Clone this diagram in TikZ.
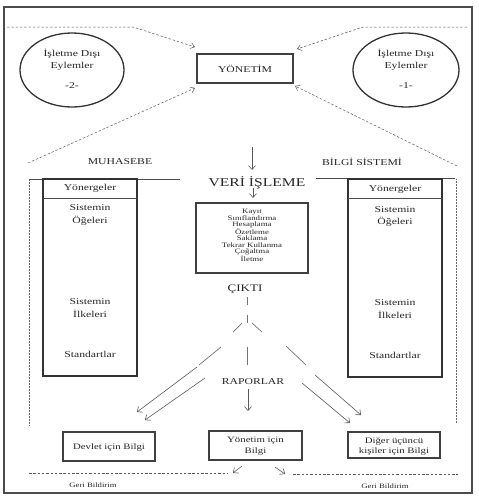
\documentclass[tikz,border=0pt]{standalone}
\usepackage{fontspec}
\setmainfont{Liberation Serif}[FakeStretch=1.3]
\usetikzlibrary{arrows.meta}
\begin{document}
\begin{tikzpicture}[x=1pt,y=-1pt,
  lbl/.style={inner sep=0pt, text=black!85, align=center, font=\fontsize{9}{12}\selectfont},
  big/.style={lbl, font=\fontsize{12}{14}\selectfont},
  mid/.style={lbl, font=\fontsize{10}{12}\selectfont},
  bx/.style={lbl, font=\fontsize{8.3}{10.5}\selectfont},
  tiny/.style={lbl, font=\fontsize{6.8}{6.4}\selectfont},
  geri/.style={lbl, font=\fontsize{6.7}{8}\selectfont},
  boxd/.style={draw=black!75, line width=1.5pt, inner sep=0pt},
  circ/.style={draw=black!80, line width=1.3pt},
  dasharr/.style={draw=black!65, line width=0.5pt, dash pattern=on 2.5pt off 1.8pt, -{Straight Barb[length=4pt,width=6pt]}},
  dashln/.style={draw=black!65, line width=0.5pt, dash pattern=on 2.5pt off 1.8pt},
  arr/.style={draw=black!65, line width=0.6pt, -{Straight Barb[length=4pt,width=7pt]}},
  seg/.style={draw=black!55, line width=0.7pt},
  dotln/.style={draw=black!60, line width=0.9pt, dash pattern=on 0.6pt off 0.9pt},
  thin/.style={draw=black!70, line width=0.6pt},
  colbox/.style={draw=black!80, line width=1.6pt}
]
\useasboundingbox (0,0) rectangle (479,498);
% outer frame
\draw[draw=black!70, line width=1.6pt] (4,7) rectangle (472,493);

% circles
\draw[circ] (72,70) ellipse [x radius=52, y radius=37];
\node[lbl] (c2a) at (72,54) {İşletme Dışı};
\node[lbl] (c2b) at (72,66) {Eylemler};
\node[lbl] (c2c) at (72,86) {-2-};
\draw[circ] (406,70) ellipse [x radius=53, y radius=37];
\node[lbl] (c1a) at (406,54) {İşletme Dışı};
\node[lbl] (c1b) at (406,66) {Eylemler};
\node[lbl] (c1c) at (406,86) {-1-};

% YONETIM
\node[boxd, lbl, minimum width=96pt, minimum height=29pt, draw=black!75, line width=1.5pt] (yon) at (245,68.5) {YÖNETİM};

% dashed arrows into YONETIM
\coordinate (tl1) at (7,27); \coordinate (tl2) at (133,27); \coordinate (tl3) at (195,47);
\draw[dasharr] (tl1) -- (tl2) -- (tl3);
\coordinate (tr1) at (467,27); \coordinate (tr2) at (363,27); \coordinate (tr3) at (297,49);
\draw[dasharr] (tr1) -- (tr2) -- (tr3);
\coordinate (bl1) at (28,163); \coordinate (bl2) at (195,88);
\draw[dasharr] (bl1) -- (bl2);
\coordinate (br1) at (457,166); \coordinate (br2) at (295,86);
\draw[dasharr] (br1) -- (br2);

% headings
\node[lbl] (muh) at (120,162) {MUHASEBE};
\node[lbl] (bilgi) at (362,162) {BİLGİ SİSTEMİ};

% VERI ISLEME
\coordinate (a1) at (252,147); \coordinate (a2) at (252,170);
\draw[arr] (a1) -- (a2);
\node[big] (veri) at (257,183) {VERİ İŞLEME};
\coordinate (a3) at (253,188); \coordinate (a4) at (253,198);
\draw[arr] (a3) -- (a4);

% processing box
\node[boxd, minimum width=112pt, minimum height=70pt] (proc) at (252,238) {};
\node[tiny] (proct) at (252,235.5) {Kayıt\\Sınıflandırma\\Hesaplama\\Özetleme\\Saklama\\Tekrar Kullanma\\Çoğaltma\\İletme};

% CIKTI
\node[mid] (cikti) at (245,289) {ÇIKTI};
\coordinate (v1) at (247,297); \coordinate (v2) at (247,305);
\coordinate (v3) at (247,315); \coordinate (v4) at (247,323);
\coordinate (v5) at (247,347); \coordinate (v6) at (247,365);
\draw[seg] (v1) -- (v2);
\draw[seg] (v3) -- (v4);
\draw[seg] (v5) -- (v6);
\coordinate (l1) at (242,323); \coordinate (l2) at (233,332);
\coordinate (l3) at (221,347); \coordinate (l4) at (199,365);
\draw[seg] (l1) -- (l2);
\draw[seg] (l3) -- (l4);
\coordinate (r1) at (252,323); \coordinate (r2) at (262,332);
\coordinate (r3) at (286,346); \coordinate (r4) at (306,365);
\draw[seg] (r1) -- (r2);
\draw[seg] (r3) -- (r4);
% double arrows
\coordinate (la1) at (197,367); \coordinate (la2) at (137,412);
\coordinate (lb1) at (205,378); \coordinate (lb2) at (145,420);
\draw[arr] (la1) -- (la2);
\draw[arr] (lb1) -- (lb2);
\coordinate (ra1) at (315,375); \coordinate (ra2) at (361,415);
\coordinate (rb1) at (302,383); \coordinate (rb2) at (350,423);
\draw[arr] (ra1) -- (ra2);
\draw[arr] (rb1) -- (rb2);

% RAPORLAR
\node[lbl] (rap) at (253,382) {RAPORLAR};
\coordinate (rp1) at (248,389); \coordinate (rp2) at (248,411);
\draw[arr] (rp1) -- (rp2);

% bottom boxes
\node[boxd, bx, minimum width=92pt, minimum height=29pt] (devlet) at (109,446.5) {};
\node[bx] (devlett) at (109,447.5) {Devlet için Bilgi};
\node[boxd, bx, minimum width=93pt, minimum height=29pt] (yonb) at (255.5,445.5) {};
\node[bx] (yonbt) at (255.5,446) {Yönetim için\\Bilgi};
\node[boxd, bx, minimum width=92pt, minimum height=26pt] (diger) at (394,445) {};
\node[bx] (digert) at (394,446.5) {Diğer üçüncü\\kişiler için Bilgi};

% feedback
\coordinate (f1) at (29,473); \coordinate (f2) at (227,473);
\draw[dashln] (f1) -- (f2);
\coordinate (fa1) at (242,466); \coordinate (fa2) at (233,473);
\draw[arr] (fa1) -- (fa2);
\coordinate (fb1) at (275,467); \coordinate (fb2) at (285,474);
\draw[arr] (fb1) -- (fb2);
\coordinate (f3) at (293,474); \coordinate (f4) at (458,474);
\draw[dashln] (f3) -- (f4);
\node[geri] (g1) at (93,485) {Geri Bildirim};
\node[geri] (g2) at (385,486) {Geri Bildirim};

% left column
\draw[thin] (29,179) -- (180,179);
\draw[dotln] (29,180) -- (29,425);
\draw[colbox] (43,179) rectangle (137,376);
\draw[thin] (43,198) -- (137,198);
\node[lbl] (ly) at (90,188.5) {Yönergeler};
\node[lbl] (ls1) at (90,208) {Sistemin};
\node[lbl] (ls2) at (90,221) {Öğeleri};
\node[lbl] (li1) at (90,302) {Sistemin};
\node[lbl] (li2) at (90,314) {İlkeleri};
\node[lbl] (lst) at (90,354) {Standartlar};

% right column
\draw[thin] (316,178) -- (455,178);
\draw[dotln] (456,179) -- (456,423);
\draw[colbox] (348,179) rectangle (442,377);
\draw[thin] (348,198) -- (442,198);
\node[lbl] (ry) at (395,189) {Yönergeler};
\node[lbl] (rs1) at (395,210) {Sistemin};
\node[lbl] (rs2) at (395,222) {Öğeleri};
\node[lbl] (ri1) at (395,303) {Sistemin};
\node[lbl] (ri2) at (395,315) {İlkeleri};
\node[lbl] (rst) at (395,355) {Standartlar};
\end{tikzpicture}
\end{document}
